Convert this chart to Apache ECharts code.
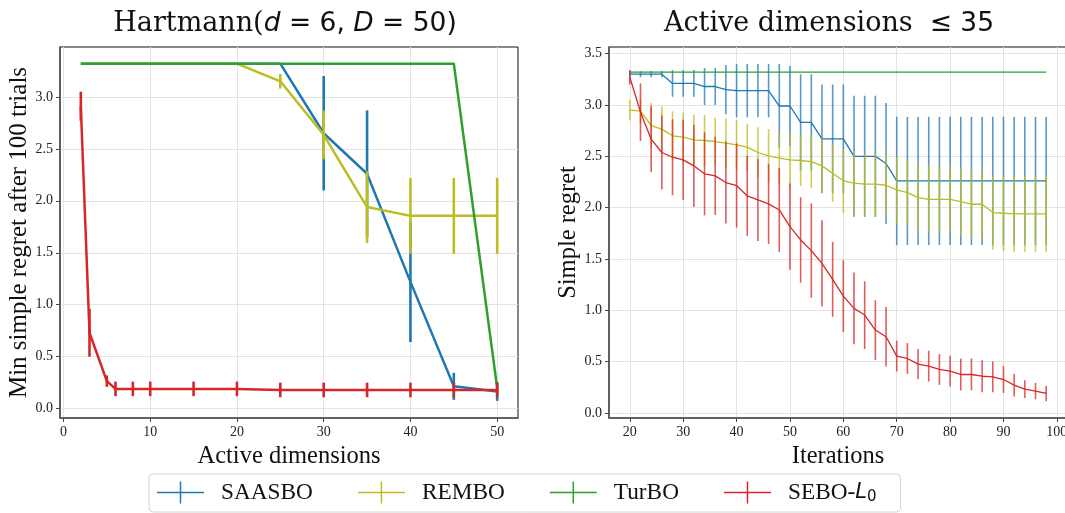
<!DOCTYPE html>
<html>
<head>
<meta charset="utf-8">
<script src="https://cdn.jsdelivr.net/npm/echarts@6/dist/echarts.min.js"></script>
<style>
  html, body { margin: 0; padding: 0; background: #ffffff; }
  #chart { width: 1065px; height: 513px; }
</style>
</head>
<body>
<div id="chart"></div>
<script>
// ---- Left panel: final regret after 100 trials vs. number of active dimensions ----
const dims = [2, 3, 5, 6, 8, 10, 15, 20, 25, 30, 35, 40, 45, 50];
const saasboFinal    = [3.32, 3.32, 3.32, 3.32, 3.32, 3.32, 3.32, 3.32, 3.32, 2.65, 2.26, 1.22, 0.215, 0.165];
const saasboFinalErr = [0, 0, 0, 0, 0, 0, 0, 0, 0, 0.55, 0.61, 0.58, 0.13, 0.09];
const remboFinal     = [3.32, 3.32, 3.32, 3.32, 3.32, 3.32, 3.32, 3.32, 3.15, 2.635, 1.94, 1.855, 1.855, 1.855];
const remboFinalErr  = [0, 0, 0, 0, 0, 0, 0, 0, 0.07, 0.235, 0.345, 0.365, 0.365, 0.365];
const turboFinal     = [3.32, 3.32, 3.32, 3.32, 3.32, 3.32, 3.32, 3.32, 3.32, 3.32, 3.32, 3.32, 3.32, 0.2];
const turboFinalErr  = [0, 0, 0, 0, 0, 0, 0, 0, 0, 0, 0, 0, 0, 0];
const seboFinal      = [2.91, 0.73, 0.265, 0.19, 0.19, 0.19, 0.19, 0.19, 0.18, 0.18, 0.18, 0.18, 0.18, 0.18];
const seboFinalErr   = [0.14, 0.23, 0.055, 0.07, 0.07, 0.07, 0.07, 0.07, 0.07, 0.07, 0.07, 0.07, 0.07, 0.07];

// ---- Right panel: simple regret per iteration (active dimensions <= 35) ----
const iters = [20, 22, 24, 26, 28, 30, 32, 34, 36, 38, 40, 42, 44, 46, 48, 50, 52, 54, 56, 58,
               60, 62, 64, 66, 68, 70, 72, 74, 76, 78, 80, 82, 84, 86, 88, 90, 92, 94, 96, 98];
const saasboIter = [3.30, 3.30, 3.30, 3.30, 3.21, 3.21, 3.21, 3.18, 3.18, 3.15, 3.14, 3.14, 3.14, 3.14, 2.99, 2.99, 2.83, 2.83, 2.67, 2.67,
                    2.67, 2.50, 2.50, 2.50, 2.43, 2.26, 2.26, 2.26, 2.26, 2.26, 2.26, 2.26, 2.26, 2.26, 2.26, 2.26, 2.26, 2.26, 2.26, 2.26];
const saasboIterErr = [0.03, 0.03, 0.03, 0.03, 0.13, 0.13, 0.13, 0.18, 0.18, 0.24, 0.26, 0.26, 0.26, 0.26, 0.41, 0.39, 0.47, 0.47, 0.53, 0.53,
                       0.53, 0.59, 0.59, 0.59, 0.59, 0.625, 0.625, 0.625, 0.625, 0.625, 0.625, 0.625, 0.625, 0.625, 0.625, 0.625, 0.625, 0.625, 0.625, 0.625];
const remboIter = [2.95, 2.94, 2.80, 2.765, 2.70, 2.686, 2.66, 2.654, 2.644, 2.628, 2.612, 2.589, 2.537, 2.505, 2.482, 2.466, 2.459, 2.449, 2.407, 2.335,
                   2.261, 2.238, 2.228, 2.228, 2.218, 2.172, 2.146, 2.098, 2.081, 2.081, 2.081, 2.059, 2.033, 2.033, 1.952, 1.945, 1.939, 1.939, 1.939, 1.939];
const remboIterErr = [0.10, 0.12, 0.22, 0.22, 0.237, 0.24, 0.244, 0.25, 0.23, 0.24, 0.243, 0.227, 0.247, 0.26, 0.26, 0.26, 0.25, 0.257, 0.263, 0.28,
                      0.31, 0.31, 0.30, 0.31, 0.31, 0.32, 0.32, 0.33, 0.33, 0.33, 0.33, 0.33, 0.33, 0.33, 0.36, 0.37, 0.37, 0.37, 0.37, 0.37];
const turboIter = [3.32, 3.32, 3.32, 3.32, 3.32, 3.32, 3.32, 3.32, 3.32, 3.32, 3.32, 3.32, 3.32, 3.32, 3.32, 3.32, 3.32, 3.32, 3.32, 3.32,
                   3.32, 3.32, 3.32, 3.32, 3.32, 3.32, 3.32, 3.32, 3.32, 3.32, 3.32, 3.32, 3.32, 3.32, 3.32, 3.32, 3.32, 3.32, 3.32, 3.32];
const turboIterErr = [0, 0, 0, 0, 0, 0, 0, 0, 0, 0, 0, 0, 0, 0, 0, 0, 0, 0, 0, 0,
                      0, 0, 0, 0, 0, 0, 0, 0, 0, 0, 0, 0, 0, 0, 0, 0, 0, 0, 0, 0];
const seboIter = [3.27, 2.93, 2.667, 2.537, 2.491, 2.465, 2.407, 2.329, 2.309, 2.244, 2.215, 2.114, 2.075, 2.036, 1.977, 1.815, 1.685, 1.581, 1.457, 1.301,
                  1.138, 1.018, 0.953, 0.807, 0.742, 0.553, 0.530, 0.475, 0.455, 0.423, 0.406, 0.374, 0.374, 0.357, 0.351, 0.325, 0.270, 0.231, 0.212, 0.189];
const seboIterErr = [0.07, 0.28, 0.32, 0.36, 0.37, 0.39, 0.40, 0.405, 0.38, 0.40, 0.41, 0.39, 0.40, 0.39, 0.41, 0.42, 0.416, 0.46, 0.42, 0.365,
                     0.35, 0.35, 0.33, 0.29, 0.29, 0.15, 0.15, 0.148, 0.15, 0.15, 0.15, 0.155, 0.155, 0.155, 0.15, 0.13, 0.11, 0.087, 0.08, 0.075];

// ---- Tick values ----
const leftXTicks  = [0, 10, 20, 30, 40, 50];
const leftYTicks  = [0, 0.5, 1.0, 1.5, 2.0, 2.5, 3.0];
const rightXTicks = [20, 30, 40, 50, 60, 70, 80, 90, 100];
const rightYTicks = [0, 0.5, 1.0, 1.5, 2.0, 2.5, 3.0, 3.5];

const methods = ['SAASBO', 'REMBO', 'TurBO', 'SEBO-L0'];
const colors  = ['#1f77b4', '#bcbd22', '#2ca02c', '#d62728'];

const SERIF = '"Liberation Serif", "Times New Roman", serif';
const TITLE_SERIF = '"DejaVu Serif", serif';
const MATH  = '"DejaVu Sans", sans-serif';

const leftSets = [
  [saasboFinal, saasboFinalErr], [remboFinal, remboFinalErr],
  [turboFinal, turboFinalErr], [seboFinal, seboFinalErr]
];
const rightSets = [
  [saasboIter, saasboIterErr], [remboIter, remboIterErr],
  [turboIter, turboIterErr], [seboIter, seboIterErr]
];

// vertical error bar renderer (no caps)
function errorBars(width, opacity) {
  return function (params, api) {
    const x = api.value(0), lo = api.value(1), hi = api.value(2);
    if (!(hi > lo)) return null;
    const a = api.coord([x, lo]);
    const b = api.coord([x, hi]);
    return {
      type: 'line',
      shape: { x1: a[0], y1: a[1], x2: b[0], y2: b[1] },
      style: { stroke: api.visual('color'), lineWidth: width, opacity: opacity }
    };
  };
}

function buildSeries(xs, sets, axisIndex, lineWidth, barWidth, barOpacity) {
  const out = [];
  sets.forEach(function (set, k) {
    const mean = set[0], err = set[1];
    out.push({
      name: methods[k],
      type: 'line',
      xAxisIndex: axisIndex, yAxisIndex: axisIndex,
      data: xs.map(function (x, i) { return [x, mean[i]]; }),
      showSymbol: false, symbol: 'none',
      color: colors[k],
      lineStyle: { width: lineWidth, color: colors[k] },
      z: 2 + k * 2,
      animation: false
    });
    out.push({
      name: methods[k],
      type: 'custom',
      xAxisIndex: axisIndex, yAxisIndex: axisIndex,
      data: xs.map(function (x, i) { return [x, mean[i] - err[i], mean[i] + err[i]]; }),
      encode: { x: 0, y: [1, 2] },
      renderItem: errorBars(barWidth, barOpacity),
      color: colors[k],
      z: 1 + k * 2,
      animation: false
    });
  });
  return out;
}

function valueAxis(gridIndex, min, max, ticks, extra) {
  return Object.assign({
    type: 'value', gridIndex: gridIndex, min: min, max: max,
    axisLine: { show: true, onZero: false, lineStyle: { color: '#555', width: 1.6 } },
    axisTick: { show: true, length: 4, customValues: ticks, lineStyle: { color: '#444', width: 1 } },
    axisLabel: { customValues: ticks, color: '#222', fontFamily: SERIF, fontSize: 14, margin: 7,
                 formatter: function (v) { return extra && extra.fmt ? extra.fmt(v) : String(v); } },
    splitLine: { show: true, lineStyle: { color: '#e3e3e3', width: 1 } },
    nameTextStyle: { fontFamily: SERIF, fontSize: 24.5, color: '#111' }
  }, extra ? extra.opts : {});
}

const oneDecimal = function (v) { return v.toFixed(1); };

const crossIcon = 'path://M0,10.25H47V11.75H0Z M22.75,0H24.25V22H22.75Z';

const option = {
  backgroundColor: '#ffffff',
  animation: false,
  grid: [
    { left: 60, top: 47, width: 458, height: 371, show: true, borderColor: '#111', borderWidth: 1,
      backgroundColor: 'transparent', containLabel: false, outerBoundsMode: 'none' },
    { left: 609, top: 47, width: 458, height: 371, show: true, borderColor: '#111', borderWidth: 1,
      backgroundColor: 'transparent', containLabel: false, outerBoundsMode: 'none' }
  ],
  xAxis: [
    valueAxis(0, -0.4, 52.4, leftXTicks, { opts: { name: 'Active dimensions', nameLocation: 'middle', nameGap: 14 } }),
    valueAxis(1, 16.1, 101.9, rightXTicks, { opts: { name: 'Iterations', nameLocation: 'middle', nameGap: 14 } })
  ],
  yAxis: [
    valueAxis(0, -0.09, 3.48, leftYTicks, { fmt: oneDecimal, opts: { name: 'Min simple regret after 100 trials', nameLocation: 'middle', nameGap: 25, nameTextStyle: { fontFamily: SERIF, fontSize: 25, color: '#111' } } }),
    valueAxis(1, -0.05, 3.565, rightYTicks, { fmt: oneDecimal, opts: { name: 'Simple regret', nameLocation: 'middle', nameGap: 27, nameTextStyle: { fontFamily: SERIF, fontSize: 24.5, color: '#111' } } })
  ],
  legend: {
    show: true,
    left: 149,
    top: 474,
    itemWidth: 47,
    itemHeight: 22,
    itemGap: 45,
    padding: [7, 24, 7, 8],
    borderColor: '#d4d4d4',
    borderWidth: 1,
    borderRadius: 4,
    data: methods.map(function (m, k) { return { name: m, icon: crossIcon, itemStyle: { color: colors[k] } }; }),
    formatter: function (name) { return name === 'SEBO-L0' ? 'SEBO-{it|L}{sub|0}' : name; },
    textStyle: {
      fontFamily: SERIF, fontSize: 23.3, color: '#111', padding: [0, 0, 0, 12],
      rich: {
        it:  { fontFamily: MATH, fontStyle: 'italic', fontSize: 21, color: '#111' },
        sub: { fontFamily: MATH, fontSize: 15, color: '#111', verticalAlign: 'bottom', padding: [10, 0, 0, 0] }
      }
    }
  },
  graphic: [
    {
      type: 'text', x: 285, y: 24,
      style: {
        text: '{s|Hartmann(}{m|d}{n| = 6, }{m|D}{n| = 50)}',
        align: 'center', verticalAlign: 'middle',
        rich: {
          s: { fontFamily: TITLE_SERIF, fontSize: 27, fill: '#111' },
          m: { fontFamily: MATH, fontStyle: 'italic', fontSize: 26.5, fill: '#111' },
          n: { fontFamily: MATH, fontSize: 26.5, fill: '#111' }
        }
      }
    },
    {
      type: 'text', x: 829, y: 24,
      style: {
        text: '{s|Active dimensions }{n| \u2264 35}',
        align: 'center', verticalAlign: 'middle',
        rich: {
          s: { fontFamily: TITLE_SERIF, fontSize: 27, fill: '#111' },
          n: { fontFamily: MATH, fontSize: 26.5, fill: '#111' }
        }
      }
    }
  ],
  series: [].concat(
    buildSeries(dims, leftSets, 0, 2.5, 2.6, 1),
    buildSeries(iters, rightSets, 1, 1.3, 1.6, 0.75)
  )
};

const chart = echarts.init(document.getElementById('chart'), null, { renderer: 'canvas' });
chart.setOption(option);
</script>
</body>
</html>
